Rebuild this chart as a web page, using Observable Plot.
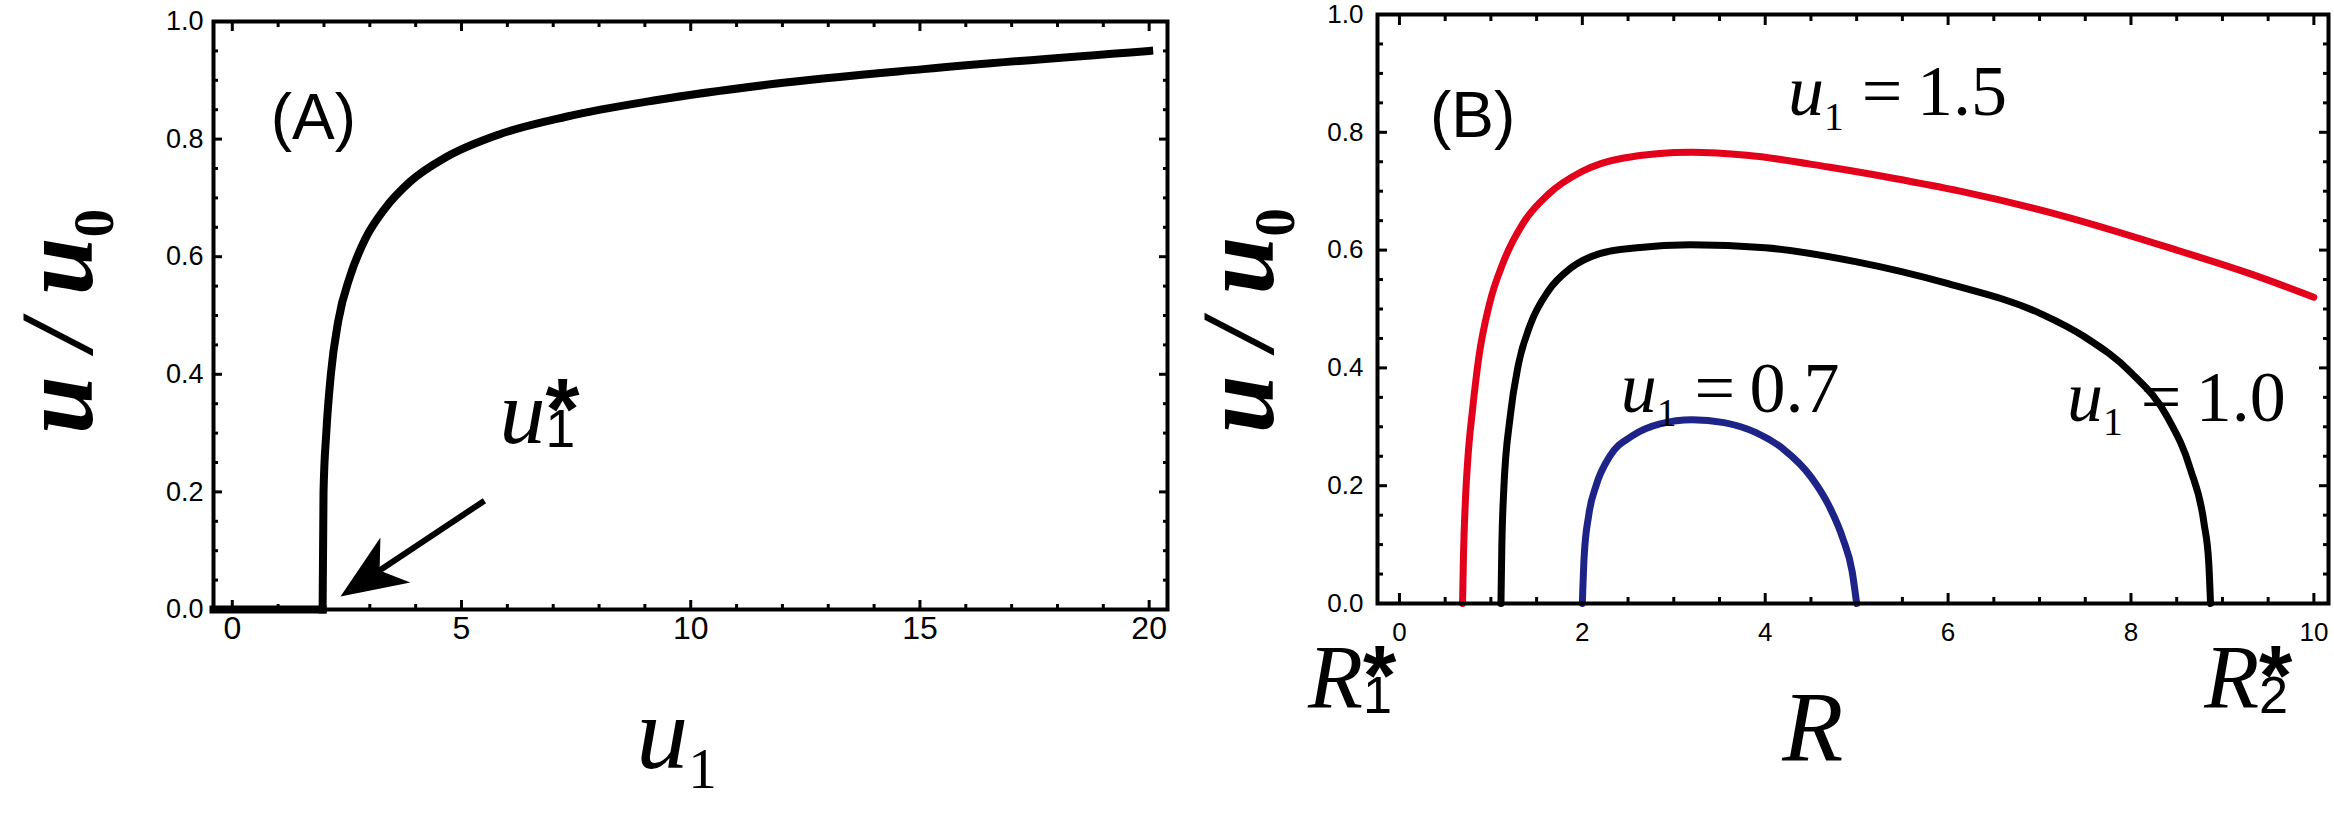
<!DOCTYPE html>
<html>
<head>
<meta charset="utf-8">
<script src="https://cdn.jsdelivr.net/npm/d3@7"></script>
<script src="https://cdn.jsdelivr.net/npm/@observablehq/plot@0.6"></script>
<style>
  html, body { margin: 0; padding: 0; background: #fff; }
  #wrap { position: relative; width: 2334px; height: 813px; overflow: hidden; background: #fff; }
  #pa, #pb { position: absolute; top: 0; }
  #pa { left: 0; }
  #pb { left: 1170px; }
  text { white-space: pre; }
</style>
</head>
<body>
<div id="wrap"><div id="pa"></div><div id="pb"></div></div>
<script>
// ---------------- Panel (A): u/u0 versus u1 ----------------
const aFlatU1 = [-0.41, 1.97];
const aFlatV  = [0, 0];
const aCurveU1 = [1.97, 1.99, 2.05, 2.15, 2.31, 2.57, 2.9, 3.32, 3.87, 4.68, 5.82, 7.28, 9.23, 11.83, 15.08, 20];
const aCurveV  = [0, 0.2, 0.3, 0.4, 0.49, 0.567, 0.63, 0.681, 0.727, 0.77, 0.808, 0.838, 0.866, 0.894, 0.919, 0.95];
const aXMajor = [0, 5, 10, 15, 20];
const aXMinor = [1,2,3,4,6,7,8,9,11,12,13,14,16,17,18,19];
const aYMajor = [0, 0.2, 0.4, 0.6, 0.8, 1.0];
const aYMinor = [0.05,0.1,0.15,0.25,0.3,0.35,0.45,0.5,0.55,0.65,0.7,0.75,0.85,0.9,0.95];

// ---------------- Panel (B): u/u0 versus R ----------------
const bRed_R = [0.69, 0.70, 0.72, 0.75, 0.80, 0.87, 0.98, 1.14, 1.35, 1.63, 1.99, 2.44, 3.19, 3.8, 4.69, 5.4, 6.13, 7.21, 8.5, 9.3, 10.0];
const bRed_V = [0, 0.08, 0.17, 0.25, 0.33, 0.42, 0.506, 0.581, 0.645, 0.695, 0.733, 0.756, 0.766, 0.761, 0.741, 0.722, 0.70, 0.66, 0.60, 0.56, 0.52];
const bBlack_R = [1.11, 1.12, 1.14, 1.21, 1.30, 1.43, 1.63, 1.87, 2.19, 2.6, 3.18, 4, 5, 6, 7, 7.5, 8, 8.4, 8.65, 8.8, 8.85, 8.87];
const bBlack_V = [0, 0.1, 0.19, 0.316, 0.405, 0.473, 0.531, 0.569, 0.594, 0.604, 0.609, 0.604, 0.58, 0.543, 0.493, 0.452, 0.392, 0.316, 0.228, 0.135, 0.07, 0];
const bBlue_R = [2.0, 2.02, 2.07, 2.15, 2.3, 2.55, 2.85, 3.2, 3.55, 3.9, 4.2, 4.5, 4.7, 4.85, 4.95, 5.0];
const bBlue_V = [0, 0.08, 0.15, 0.2, 0.25, 0.285, 0.305, 0.312, 0.307, 0.29, 0.262, 0.215, 0.165, 0.11, 0.055, 0];
const bXMajor = [0, 2, 4, 6, 8, 10];
const bXMinor = [0.5,1,1.5,2.5,3,3.5,4.5,5,5.5,6.5,7,7.5,8.5,9,9.5];
const bYMajor = [0, 0.2, 0.4, 0.6, 0.8, 1.0];
const bYMinor = [0.05,0.1,0.15,0.25,0.3,0.35,0.45,0.5,0.55,0.65,0.7,0.75,0.85,0.9,0.95];

// labels (markup: $..$ italic, _{..} serif subscript, _[..] sans subscript, ^[..] bold sans superscript)
const bCurveLabels = ["$u$_{1} =\u20091.5", "$u$_{1} =\u20091.0", "$u$_{1} =\u20090.7"];
const bCurveLabelR = [4.25, 7.30, 2.42];
const bCurveLabelV = [0.829, 0.31, 0.325];

const table = (xs, ys, key) => xs.map((x, i) => ({x, y: ys[i], s: key}));
const aFlat = table(aFlatU1, aFlatV, "flat");
const aCurve = table(aCurveU1, aCurveV, "curve");
const bSeries = [
  {key: "1.5", color: "#e3001b", data: table(bRed_R, bRed_V, "1.5")},
  {key: "1.0", color: "#000000", data: table(bBlack_R, bBlack_V, "1.0")},
  {key: "0.7", color: "#1e2487", data: table(bBlue_R, bBlue_V, "0.7")}
];

function frameTicks(xMajor, xMinor, yMajor, yMinor, majorLen, minorLen) {
  const o = {tickFormat: () => "", label: null, strokeWidth: 3};
  return [
    Plot.axisX({...o, anchor: "bottom", ticks: xMajor, tickSize: -majorLen}),
    Plot.axisX({...o, anchor: "bottom", ticks: xMinor, tickSize: -minorLen}),
    Plot.axisX({...o, anchor: "top", ticks: xMajor, tickSize: -majorLen}),
    Plot.axisX({...o, anchor: "top", ticks: xMinor, tickSize: -minorLen}),
    Plot.axisY({...o, anchor: "left", ticks: yMajor, tickSize: -majorLen}),
    Plot.axisY({...o, anchor: "left", ticks: yMinor, tickSize: -minorLen}),
    Plot.axisY({...o, anchor: "right", ticks: yMajor, tickSize: -majorLen}),
    Plot.axisY({...o, anchor: "right", ticks: yMinor, tickSize: -minorLen})
  ];
}

const arrowHead = {
  draw(ctx) {
    ctx.moveTo(0, 0);
    ctx.lineTo(-66, -27);
    ctx.lineTo(-47, 0);
    ctx.lineTo(-66, 27);
    ctx.closePath();
  }
};

const serif = "Liberation Serif";
const sans = "Liberation Sans";

const plotA = Plot.plot({
  width: 1170, height: 813,
  marginLeft: 213, marginRight: 3, marginTop: 21, marginBottom: 204,
  x: {domain: [-0.41, 20.4]},
  y: {domain: [0, 1]},
  style: {fontFamily: sans, background: "white", color: "black"},
  marks: [
    Plot.axisX({anchor: "bottom", ticks: aXMajor, tickSize: 0, tickPadding: 7, fontSize: 32, label: null}),
    Plot.axisY({anchor: "left", ticks: aYMajor, tickSize: 0, tickPadding: 10, fontSize: 27, tickFormat: d3.format(".1f"), label: null}),
    ...frameTicks(aXMajor, aXMinor, aYMajor, aYMinor, 9, 5),
    Plot.line(aFlat, {x: "x", y: "y", stroke: "black", strokeWidth: 8, strokeLinecap: "square"}),
    Plot.line(aCurve, {x: "x", y: "y", stroke: "black", strokeWidth: 8, strokeLinecap: "square", curve: "monotone-x"}),
    Plot.link([{x1: 5.5, y1: 0.185, x2: 3.08, y2: 0.0595}], {x1: "x1", y1: "y1", x2: "x2", y2: "y2", stroke: "black", strokeWidth: 6}),
    Plot.dot([{x: 2.36, y: 0.022}], {x: "x", y: "y", symbol: arrowHead, rotate: 146.3, fill: "black", stroke: "none"}),
    Plot.text(["(A)"], {x: 1.77, y: 0.835, textAnchor: "middle", lineAnchor: "middle", fontSize: 64, fontFamily: sans}),
    Plot.text(["$u$_[1]^[*]"], {x: 5.83, y: 0.284, textAnchor: "start", lineAnchor: "bottom", fontSize: 92, fontFamily: serif}),
    Plot.text(["$u$_{1}"], {x: 9.69, y: -0.269, textAnchor: "middle", lineAnchor: "bottom", fontSize: 104, fontFamily: serif}),
    Plot.text(["$u / u$_{0}"], {x: -3.06, y: 0.49, rotate: -90, textAnchor: "middle", lineAnchor: "bottom", fontSize: 104, fontFamily: serif, fontWeight: "bold"}),
    Plot.frame({stroke: "black", strokeWidth: 4})
  ]
});

const plotB = Plot.plot({
  width: 1164, height: 813,
  marginLeft: 207, marginRight: 6, marginTop: 14, marginBottom: 210,
  x: {domain: [-0.24, 10.16]},
  y: {domain: [0, 1]},
  style: {fontFamily: sans, background: "white", color: "black"},
  marks: [
    Plot.axisX({anchor: "bottom", ticks: bXMajor, tickSize: 0, tickPadding: 19, fontSize: 26, label: null}),
    Plot.axisY({anchor: "left", ticks: bYMajor, tickSize: 0, tickPadding: 14, fontSize: 26, tickFormat: d3.format(".1f"), label: null}),
    ...frameTicks(bXMajor, bXMinor, bYMajor, bYMinor, 10, 6),
    ...bSeries.map(s => Plot.line(s.data, {x: "x", y: "y", stroke: s.color, strokeWidth: 7, curve: "monotone-x"})),
    Plot.text(["(B)"], {x: 0.80, y: 0.827, textAnchor: "middle", lineAnchor: "middle", fontSize: 64, fontFamily: sans}),
    Plot.text(bCurveLabels, {x: (d, i) => bCurveLabelR[i], y: (d, i) => bCurveLabelV[i], textAnchor: "start", lineAnchor: "bottom", fontSize: 72, fontFamily: serif}),
    Plot.text(["$R$_[1]^[*]"], {x: -1.0, y: -0.178, textAnchor: "start", lineAnchor: "bottom", fontSize: 90, fontFamily: serif}),
    Plot.text(["$R$_[2]^[*]"], {x: 8.80, y: -0.178, textAnchor: "start", lineAnchor: "bottom", fontSize: 90, fontFamily: serif}),
    Plot.text(["$R$"], {x: 4.52, y: -0.265, textAnchor: "middle", lineAnchor: "bottom", fontSize: 100, fontFamily: serif}),
    Plot.text(["$u / u$_{0}"], {x: -1.38, y: 0.48, rotate: -90, textAnchor: "middle", lineAnchor: "bottom", fontSize: 104, fontFamily: serif, fontWeight: "bold"}),
    Plot.frame({stroke: "black", strokeWidth: 4})
  ]
});

// turn the light markup of label strings into real SVG tspans (sub/superscripts)
const NS = "http://www.w3.org/2000/svg";
function richify(svg) {
  svg.querySelectorAll("text").forEach(t => {
    const s = t.textContent;
    if (!/\$|_[{\[]|\^\[/.test(s)) return;
    const g = t.closest("g[font-size]");
    const base = parseFloat(g ? g.getAttribute("font-size") : 40);
    t.textContent = "";
    t.removeAttribute("y");
    t.removeAttribute("dy");
    const re = /\$([^$]*)\$|_\{([^}]*)\}|_\[([^\]]*)\]|\^\[([^\]]*)\]|([^$_^]+)/g;
    let shift = 0, lastSubW = 0, lastSub = false;
    for (const m of s.matchAll(re)) {
      const ts = document.createElementNS(NS, "tspan");
      let txt, size = base, target = 0, isSub = false;
      if (m[1] !== undefined) {
        txt = m[1]; ts.setAttribute("font-style", "italic");
      } else if (m[2] !== undefined) {
        txt = m[2]; size = base * 0.55; target = base * 0.2; isSub = true;
        ts.setAttribute("font-style", "normal");
        lastSubW = 0.5 * size * txt.length;
      } else if (m[3] !== undefined) {
        txt = m[3]; size = base * 0.58; target = base * 0.05; isSub = true;
        ts.setAttribute("font-style", "normal"); ts.setAttribute("font-family", sans);
        lastSubW = 0.556 * size * txt.length;
      } else if (m[4] !== undefined) {
        txt = m[4]; size = base * 0.95; target = -base * 0.04;
        ts.setAttribute("font-style", "normal"); ts.setAttribute("font-family", sans); ts.setAttribute("font-weight", "bold");
        if (lastSub) ts.setAttribute("dx", (-lastSubW).toFixed(2));
      } else {
        txt = m[5]; ts.setAttribute("font-style", "normal");
      }
      ts.setAttribute("font-size", size.toFixed(2));
      if (target !== shift) ts.setAttribute("dy", (target - shift).toFixed(2));
      shift = target;
      lastSub = isSub;
      ts.textContent = txt;
      t.appendChild(ts);
    }
  });
}
richify(plotA);
richify(plotB);
document.getElementById("pa").appendChild(plotA);
document.getElementById("pb").appendChild(plotB);
</script>
</body>
</html>
